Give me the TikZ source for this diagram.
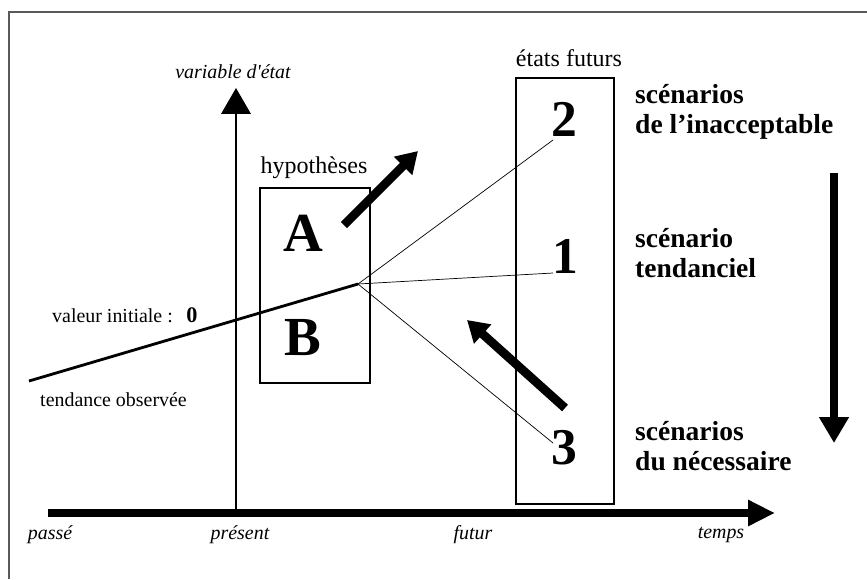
\documentclass[tikz,border=0pt]{standalone}
\usepackage{fontspec}
\setmainfont{Liberation Serif}
\usetikzlibrary{arrows.meta}
\tikzset{
  lab/.style={font=\fontsize{17}{20}\selectfont, inner sep=0},
  hlab/.style={font=\fontsize{20.5}{24}\selectfont, inner sep=0},
  itl/.style={font=\fontsize{17}{20}\selectfont\itshape, inner sep=0},
  letter/.style={font=\fontsize{47}{50}\selectfont\bfseries, inner sep=0},
  num/.style={font=\fontsize{44}{48}\selectfont\bfseries, inner sep=0},
  scen/.style={font=\fontsize{23.5}{25.6}\selectfont\bfseries, align=left, inner sep=0, anchor=west},
  box/.style={draw, line width=1.2pt, inner sep=0},
  fan/.style={line width=0.6pt},
  fatarrow/.style={line width=7.5pt, -{Triangle[length=18pt,width=21pt]}},
}
\begin{document}
\begin{tikzpicture}[x=0.03cm,y=-0.03cm]
\useasboundingbox (0,0) rectangle (867,579);
% frame
\draw[line width=1.3pt, black!65] (9,579) -- (9,12) -- (867,12);
% boxes
\node[box, minimum width=3.3cm, minimum height=5.85cm] (hyp) at (315,285.5) {};
\node[box, minimum width=2.94cm, minimum height=12.78cm] (fut) at (565,291) {};
\node[hlab] (hyplab) at (314,168) {hypothèses};
\node[hlab] (futlab) at (569,58) {états futurs};
% axes
\coordinate (xs) at (48,513);
\coordinate (xe) at (775,513);
\coordinate (ys) at (236,513);
\coordinate (ye) at (236,88);
\draw[line width=1.6pt, -{Triangle[length=22pt,width=25pt]}] (ys) -- (ye);
\draw[line width=7pt, -{Triangle[length=23pt,width=21pt]}] (xs) -- (xe);
\node[itl] (yl) at (233,72) {variable d\textquotesingle état};
\node[itl] (passe) at (50,535) {passé};
\node[itl] (present) at (240,535) {présent};
\node[itl] (futur) at (473,535) {futur};
\node[itl] (temps) at (721,535) {temps};
% letters and numbers
\node[letter] (A) at (303,233) {A};
\node[letter] (B) at (303,338) {B};
\node[num] (n2) at (564,119) {2};
\node[num] (n1) at (565,256) {1};
\node[num] (n3) at (564,448) {3};
% trend
\coordinate (t0) at (29,381);
\coordinate (o) at (358,284);
\draw[line width=2.4pt] (t0) -- (o);
\coordinate (e2) at (553,140);
\coordinate (e1) at (553,273);
\coordinate (e3) at (553,443);
\draw[fan] (o) -- (e2);
\draw[fan] (o) -- (e1);
\draw[fan] (o) -- (e3);
% labels left
\node[lab, anchor=west] (vi) at (52,316) {valeur initiale :};
\node[font=\fontsize{19}{20}\selectfont\bfseries, inner sep=0] (zero) at (192,315) {0};
\node[lab, anchor=west] (to) at (40,400) {tendance observée};
% fat arrows
\coordinate (a1s) at (344,225);
\coordinate (a1e) at (418,151);
\draw[fatarrow] (a1s) -- (a1e);
\coordinate (a3s) at (565,408);
\coordinate (a3e) at (467,320);
\draw[fatarrow] (a3s) -- (a3e);
\coordinate (ds) at (834,173);
\coordinate (de) at (834,443);
\draw[line width=6.5pt, -{Triangle[length=22pt,width=24pt]}] (ds) -- (de);
% scenario labels
\node[scen] (s2) at (635,112) {scénarios\\de l’inacceptable};
\node[scen] (s1) at (635,253) {scénario\\tendanciel};
\node[scen] (s3) at (635,446.5) {scénarios\\du nécessaire};
\end{tikzpicture}
\end{document}
